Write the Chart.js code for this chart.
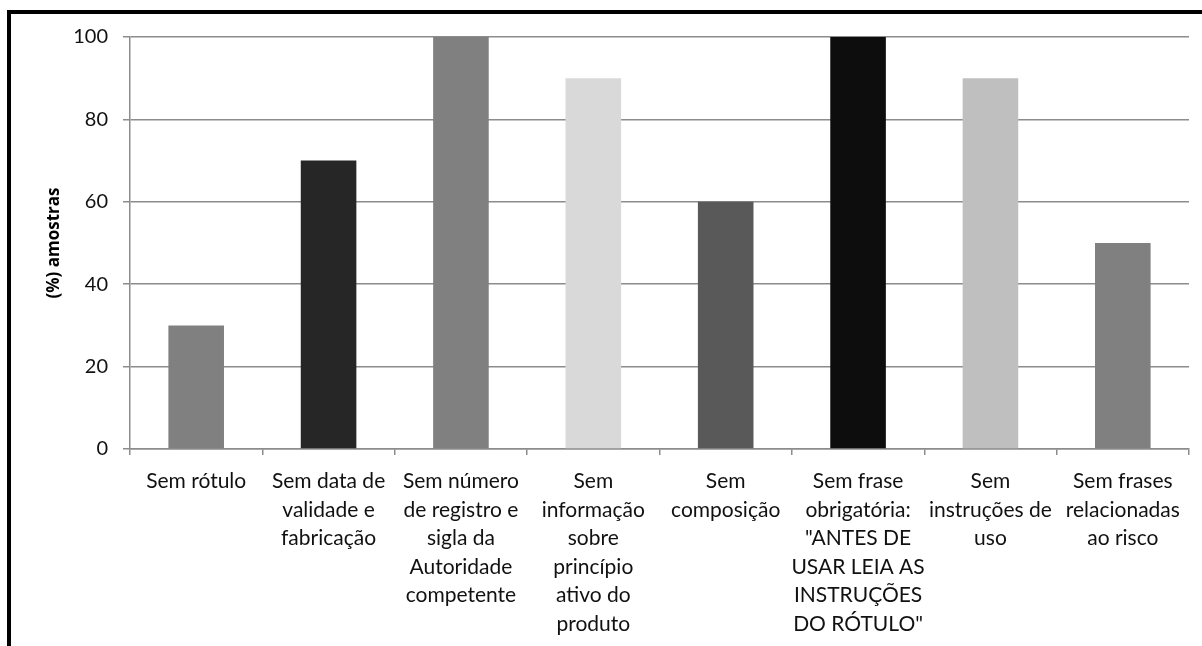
<!DOCTYPE html>
<html>
<head>
<meta charset="utf-8">
<script src="https://cdn.jsdelivr.net/npm/chart.js@4"></script>
<style>
  html, body { margin: 0; padding: 0; background: #fff; overflow: hidden; }
  #wrap { position: relative; width: 1202px; height: 646px; }
  #frame { position: absolute; left: 7px; top: 10px; width: 1300px; height: 700px;
           border-top: 4px solid #000; border-left: 4px solid #000; }
  canvas { position: absolute; left: 0; top: 0; }
</style>
</head>
<body>
<div id="wrap">
  <div id="frame"></div>
  <canvas id="chart" width="1202" height="646"></canvas>
</div>
<script>
// Dados do gráfico
const categorias = [
    ['Sem rótulo'],
    ['Sem data de', 'validade e', 'fabricação'],
    ['Sem número', 'de registro e', 'sigla da', 'Autoridade', 'competente'],
    ['Sem', 'informação', 'sobre', 'princípio', 'ativo do', 'produto'],
    ['Sem', 'composição'],
    ['Sem frase', 'obrigatória:', '"ANTES DE', 'USAR LEIA AS', 'INSTRUÇÕES', 'DO RÓTULO"'],
    ['Sem', 'instruções de', 'uso'],
    ['Sem frases', 'relacionadas', 'ao risco']
];
const valores = [30, 70, 100, 90, 60, 100, 90, 50];
const coresBarras = ['#808080', '#262626', '#808080', '#d9d9d9', '#595959', '#0d0d0d', '#bfbfbf', '#808080'];
const ticksY = [0, 20, 40, 60, 80, 100];

const corGrade = '#8c8c8c';
const fonte = 'Lato, "Open Sans", sans-serif';

const ctx = document.getElementById('chart').getContext('2d');
new Chart(ctx, {
    type: 'bar',
    data: {
        labels: categorias,
        datasets: [{
            data: valores,
            backgroundColor: coresBarras,
            borderWidth: 0,
            barPercentage: 0.42,
            categoryPercentage: 1
        }]
    },
    options: {
        responsive: false,
        animation: false,
        layout: { padding: { left: 10, top: 37, right: 13, bottom: 0 } },
        plugins: {
            legend: { display: false },
            tooltip: { enabled: false }
        },
        scales: {
            x: {
                grid: {
                    offset: true,
                    drawOnChartArea: false,
                    drawTicks: true,
                    tickLength: 6,
                    color: corGrade,
                    lineWidth: 1.5
                },
                border: { color: corGrade, width: 1.5 },
                ticks: {
                    maxRotation: 0,
                    autoSkip: false,
                    padding: 12,
                    color: '#111',
                    font: { family: fonte, size: 21, lineHeight: 1.36 }
                },
                afterFit: function (scale) { scale.height = 646 - 449; }
            },
            y: {
                min: 0,
                max: 100,
                afterBuildTicks: function (scale) {
                    scale.ticks = ticksY.map(v => ({ value: v }));
                },
                grid: {
                    color: corGrade,
                    lineWidth: 1.5,
                    drawTicks: true,
                    tickLength: 7
                },
                border: { color: corGrade, width: 1.5 },
                ticks: {
                    padding: 15,
                    color: '#111',
                    font: { family: fonte, size: 20 }
                },
                title: {
                    display: true,
                    text: '(%) amostras',
                    color: '#000',
                    padding: { top: 34, bottom: 0 },
                    font: { family: '"Open Sans", sans-serif', size: 17, weight: 'bold' }
                },
                afterFit: function (scale) { scale.width = 120; }
            }
        }
    }
});
</script>
</body>
</html>
